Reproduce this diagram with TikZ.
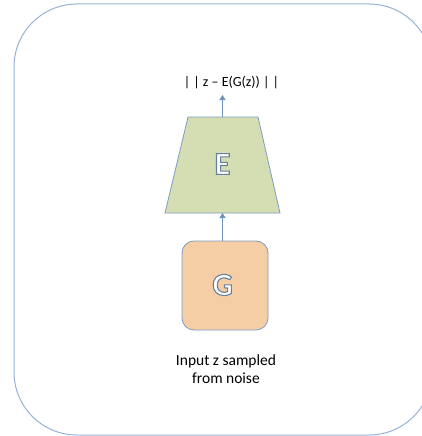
\documentclass[tikz,border=0pt]{standalone}
\usepackage{fontspec}
\setmainfont{Carlito}
\usetikzlibrary{arrows.meta}
\definecolor{frameblue}{RGB}{150,178,214}
\definecolor{edgeblue}{RGB}{125,155,198}
\definecolor{arrowblue}{RGB}{112,146,190}
\definecolor{encgreen}{RGB}{212,222,178}
\definecolor{genorange}{RGB}{246,206,165}
\tikzset{
  conn/.style={draw=arrowblue, line width=1.3pt, -{Triangle[length=5pt,width=6pt]}},
  caption/.style={font=\fontsize{15.5}{18.5}\selectfont, align=center, text=black},
  losstext/.style={font=\fontsize{14}{16}\selectfont, text=black},
  bigletter/.style={font=\fontsize{32}{32}\selectfont\bfseries, text=white},
}
\newcommand{\outletter}[1]{\special{pdf:code q 2 Tr 1.1 w 0.40 0.50 0.62 RG}#1\special{pdf:code Q}}
\begin{document}
\begin{tikzpicture}[x=1pt,y=-1pt]
\useasboundingbox (0,0) rectangle (422,436);
\begin{scope}
\clip (0,0) rectangle (422,436);
\draw[frameblue, line width=1pt, rounded corners=63pt] (14,4) rectangle (432,435);
\end{scope}
% encoder trapezoid
\draw[edgeblue, fill=encgreen, line width=0.8pt] (188,117) -- (258,117) -- (280,213) -- (165,213) -- cycle;
\node[bigletter] (E) at (222.5,164) {\outletter{E}};
\coordinate (Etop) at (222.5,117);
\coordinate (Ebot) at (222.5,213);
% generator
\node[draw=edgeblue, fill=genorange, line width=0.8pt, rounded corners=12pt, minimum width=86pt, minimum height=89pt, inner sep=0pt] (G) at (225,285.5) {};
\node[bigletter] (Gl) at (222.5,285) {\outletter{G}};
\coordinate (Gtop) at (222.5,241);
% texts
\node[losstext, anchor=center] (loss) at (231.5,83) {| | z – E(G(z)) | |};
\coordinate (losstip) at (222.5,95);
\node[caption] (input) at (226,369) {Input z sampled\\from noise};
% connectors
\draw[conn] (Etop) -- (losstip);
\draw[conn] (Gtop) -- (Ebot);
\end{tikzpicture}
\end{document}
